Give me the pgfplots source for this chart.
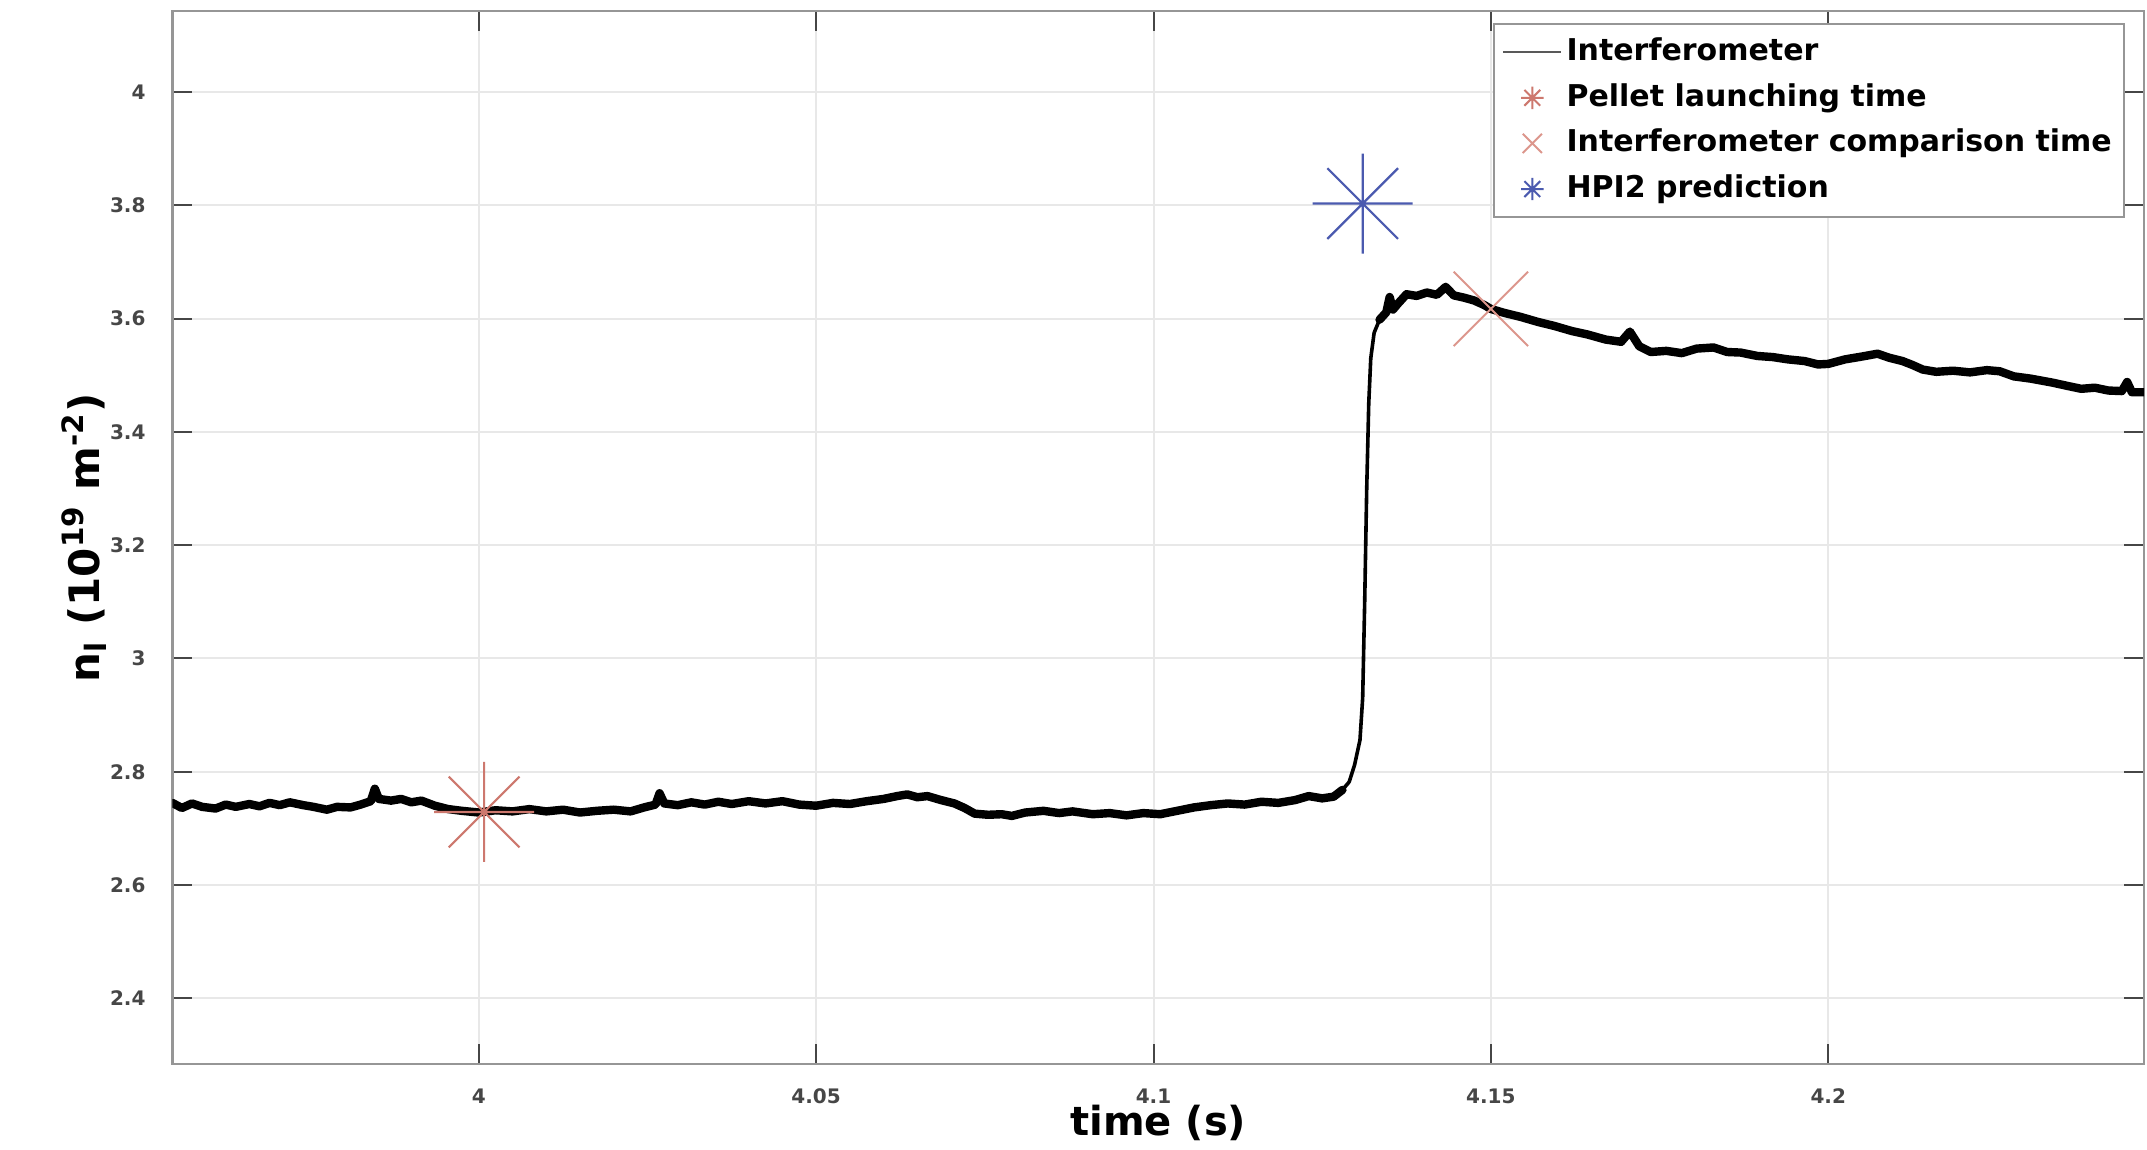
\documentclass[border=0pt]{standalone}
\usepackage{fontspec}
\setmainfont{DejaVu Sans}
\usepackage{pgfplots}
\pgfplotsset{compat=1.18}
\definecolor{pelletred}{RGB}{205,120,110}
\definecolor{cmpred}{RGB}{220,150,140}
\definecolor{hpiblue}{RGB}{75,90,175}
\definecolor{gridc}{RGB}{232,232,232}
\definecolor{axc}{RGB}{150,150,150}
\definecolor{tickc}{RGB}{70,70,70}
\pgfdeclareplotmark{ast8}{%
  \pgfpathmoveto{\pgfqpoint{-\pgfplotmarksize}{0pt}}\pgfpathlineto{\pgfqpoint{\pgfplotmarksize}{0pt}}%
  \pgfpathmoveto{\pgfqpoint{0pt}{-\pgfplotmarksize}}\pgfpathlineto{\pgfqpoint{0pt}{\pgfplotmarksize}}%
  \pgfpathmoveto{\pgfqpoint{-0.7071\pgfplotmarksize}{-0.7071\pgfplotmarksize}}\pgfpathlineto{\pgfqpoint{0.7071\pgfplotmarksize}{0.7071\pgfplotmarksize}}%
  \pgfpathmoveto{\pgfqpoint{-0.7071\pgfplotmarksize}{0.7071\pgfplotmarksize}}\pgfpathlineto{\pgfqpoint{0.7071\pgfplotmarksize}{-0.7071\pgfplotmarksize}}%
  \pgfusepathqstroke}
\pgfdeclareplotmark{xx}{%
  \pgfpathmoveto{\pgfqpoint{-\pgfplotmarksize}{-\pgfplotmarksize}}\pgfpathlineto{\pgfqpoint{\pgfplotmarksize}{\pgfplotmarksize}}%
  \pgfpathmoveto{\pgfqpoint{-\pgfplotmarksize}{\pgfplotmarksize}}\pgfpathlineto{\pgfqpoint{\pgfplotmarksize}{-\pgfplotmarksize}}%
  \pgfusepathqstroke}
\begin{document}
\begin{tikzpicture}
\path[use as bounding box] (0,0) rectangle (536.75pt,287.25pt);
\begin{axis}[
  at={(43.1pt,21.25pt)}, anchor=south west,
  width=492.9pt, height=263.25pt, scale only axis,
  xmin=3.9546, xmax=4.2468, ymin=2.284, ymax=4.143,
  xtick={4,4.05,4.1,4.15,4.2},
  ytick={2.4,2.6,2.8,3,3.2,3.4,3.6,3.8,4},
  /pgf/number format/assume math mode=true,
  grid=major, major grid style={gridc, line width=0.5pt},
  axis line style={axc, line width=0.7pt},
  tick align=inside, major tick length=5pt,
  tick style={tickc, line width=0.5pt},
  xticklabel style={font=\fontsize{5}{6}\selectfont\bfseries, text=tickc, yshift=-2.7pt},
  yticklabel style={font=\fontsize{5}{6}\selectfont\bfseries, text=tickc, xshift=-3.2pt},
  xlabel={time (s)},
  xlabel style={font=\fontsize{10}{12}\selectfont\bfseries, at={(axis description cs:0.5,-0.056)}, anchor=center},
  ylabel={n\textsubscript{l} (10\textsuperscript{19} m\textsuperscript{-2})},
  ylabel style={font=\fontsize{10.5}{12}\selectfont\bfseries, at={(axis description cs:-0.0446,0.5)}, anchor=center, rotate=0},
  legend style={at={(rel axis cs:1,1)}, anchor=north east, xshift=-4.75pt, yshift=-3pt,
    draw=axc, line width=0.6pt, fill=white,
    font=\fontsize{7.5}{9}\selectfont\bfseries,
    inner xsep=2pt, inner ysep=2.1pt, row sep=1.6pt,
    nodes={inner sep=1pt, text height=6pt, text depth=1.8pt}},
  legend cell align=left,
]
\addplot[black, line width=2.1pt, line join=round, line cap=round, forget plot] coordinates {
(3.9546,2.745)(3.9560,2.736)(3.9575,2.744)(3.9590,2.738)(3.9610,2.735)(3.9625,2.742)(3.9640,2.738)(3.9660,2.743)(3.9675,2.739)(3.9690,2.745)(3.9705,2.741)(3.9720,2.746)(3.9740,2.741)(3.9755,2.738)(3.9775,2.733)(3.9790,2.738)(3.9810,2.737)(3.9825,2.742)(3.9840,2.748)(3.9846,2.770)(3.9852,2.752)(3.9870,2.749)(3.9885,2.752)(3.9900,2.746)(3.9915,2.749)(3.9935,2.740)(3.9955,2.734)(3.9975,2.731)(4.0000,2.728)(4.0025,2.732)(4.0050,2.730)(4.0075,2.734)(4.0100,2.730)(4.0125,2.733)(4.0150,2.728)(4.0175,2.731)(4.0200,2.733)(4.0225,2.730)(4.0245,2.737)(4.0262,2.742)(4.0268,2.762)(4.0275,2.744)(4.0295,2.741)(4.0315,2.746)(4.0335,2.742)(4.0355,2.747)(4.0375,2.743)(4.0400,2.748)(4.0425,2.744)(4.0450,2.748)(4.0475,2.742)(4.0500,2.740)(4.0525,2.745)(4.0550,2.743)(4.0575,2.748)(4.0600,2.752)(4.0620,2.757)(4.0635,2.760)(4.0650,2.755)(4.0665,2.757)(4.0685,2.750)(4.0705,2.744)(4.0720,2.736)(4.0735,2.726)(4.0755,2.724)(4.0775,2.725)(4.0790,2.722)(4.0810,2.728)(4.0837,2.731)(4.0860,2.727)(4.0880,2.730)(4.0910,2.725)(4.0935,2.727)(4.0960,2.723)(4.0985,2.727)(4.1010,2.725)(4.1035,2.731)(4.1060,2.737)(4.1085,2.741)(4.1110,2.744)(4.1135,2.742)(4.1160,2.747)(4.1185,2.745)(4.1210,2.750)(4.1230,2.757)(4.1250,2.753)(4.1267,2.756)(4.1280,2.768)
};
\addplot[black, line width=0.9pt, line join=round, line cap=round, forget plot] coordinates {
(4.1280,2.768)(4.1290,2.782)(4.1298,2.812)(4.1306,2.856)(4.1310,2.930)(4.1313,3.100)(4.1316,3.300)(4.1319,3.450)(4.1322,3.530)(4.1327,3.575)(4.1335,3.598)
};
\addplot[black, line width=2.1pt, line join=round, line cap=round, forget plot] coordinates {
(4.1335,3.598)(4.1345,3.611)(4.1350,3.638)(4.1355,3.616)(4.1362,3.626)(4.1375,3.643)(4.1390,3.640)(4.1405,3.646)(4.1420,3.642)(4.1433,3.656)(4.1445,3.641)(4.1460,3.637)(4.1475,3.632)(4.1490,3.624)(4.1500,3.617)(4.1520,3.610)(4.1544,3.603)(4.1570,3.594)(4.1594,3.587)(4.1620,3.578)(4.1643,3.572)(4.1670,3.563)(4.1693,3.559)(4.1706,3.577)(4.1720,3.551)(4.1737,3.541)(4.1760,3.543)(4.1783,3.539)(4.1805,3.547)(4.1830,3.549)(4.1850,3.541)(4.1870,3.540)(4.1895,3.534)(4.1918,3.532)(4.1940,3.528)(4.1965,3.525)(4.1985,3.519)(4.2000,3.520)(4.2025,3.528)(4.2050,3.533)(4.2073,3.538)(4.2090,3.531)(4.2110,3.525)(4.2125,3.518)(4.2140,3.510)(4.2160,3.506)(4.2185,3.508)(4.2210,3.505)(4.2235,3.509)(4.2254,3.507)(4.2275,3.498)(4.2300,3.494)(4.2332,3.487)(4.2355,3.481)(4.2375,3.476)(4.2395,3.478)(4.2415,3.473)(4.2435,3.472)(4.2443,3.488)(4.2450,3.470)(4.2468,3.470)
};
\addplot[only marks, mark=ast8, mark size=12.5pt, pelletred, line width=0.55pt, forget plot] coordinates {(4.0008,2.729)};
\addplot[only marks, mark=xx, mark size=9.3pt, cmpred, line width=0.5pt, forget plot] coordinates {(4.15,3.617)};
\addplot[only marks, mark=ast8, mark size=12.5pt, hpiblue, line width=0.55pt, forget plot] coordinates {(4.131,3.803)};
\addlegendimage{legend image code/.code={\draw[black!65, line width=0.6pt] (0pt,0pt) -- (14.5pt,0pt);}}
\addlegendentry{Interferometer}
\addlegendimage{legend image code/.code={\draw[pelletred, line width=0.5pt, mark=ast8, mark size=2.8pt, only marks] plot coordinates {(7.25pt,0pt)};}}
\addlegendentry{Pellet launching time}
\addlegendimage{legend image code/.code={\draw[cmpred, line width=0.5pt, mark=xx, mark size=2.4pt, only marks] plot coordinates {(7.25pt,0pt)};}}
\addlegendentry{Interferometer comparison time}
\addlegendimage{legend image code/.code={\draw[hpiblue, line width=0.5pt, mark=ast8, mark size=2.8pt, only marks] plot coordinates {(7.25pt,0pt)};}}
\addlegendentry{HPI2 prediction}
\end{axis}
\end{tikzpicture}
\end{document}
